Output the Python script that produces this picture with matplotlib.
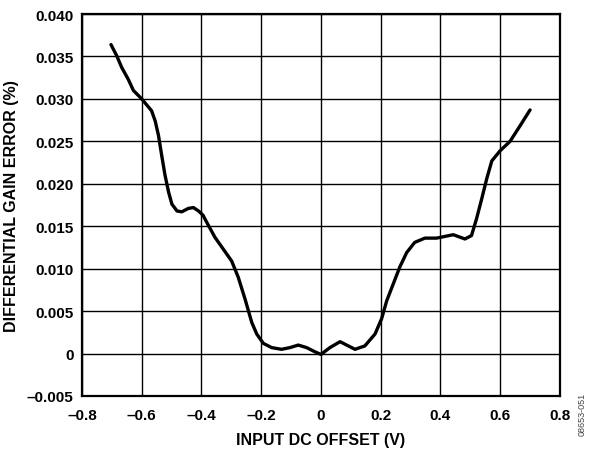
import matplotlib
matplotlib.use("Agg")
from matplotlib import pyplot as plt
from matplotlib.ticker import FuncFormatter

# curve
offset_v = [-0.703, -0.684, -0.667, -0.645, -0.628, -0.600, -0.567, -0.555, -0.544,
            -0.533, -0.522, -0.510, -0.499, -0.482, -0.466, -0.444, -0.427, -0.410,
            -0.395, -0.383, -0.355, -0.327, -0.299, -0.277, -0.254, -0.232, -0.215,
            -0.193, -0.165, -0.132, -0.104, -0.076, -0.048, -0.020, 0.000, 0.030,
            0.064, 0.086, 0.114, 0.147, 0.181, 0.203, 0.220, 0.242, 0.264, 0.287,
            0.314, 0.348, 0.387, 0.443, 0.482, 0.504, 0.521, 0.538, 0.555, 0.572,
            0.600, 0.633, 0.666, 0.700]
gain_err = [0.0364, 0.0351, 0.0337, 0.0323, 0.0310, 0.0300, 0.0286, 0.0274, 0.0257,
            0.0233, 0.0210, 0.0190, 0.0176, 0.0168, 0.0167, 0.0171, 0.0172, 0.0168,
            0.0163, 0.0155, 0.0137, 0.0123, 0.0109, 0.0090, 0.0064, 0.0037, 0.0023,
            0.0012, 0.0007, 0.0005, 0.0007, 0.0010, 0.0007, 0.0002, -0.0001, 0.0007,
            0.0014, 0.0010, 0.0005, 0.0009, 0.0023, 0.0041, 0.0062, 0.0082, 0.0102,
            0.0119, 0.0131, 0.0136, 0.0136, 0.0140, 0.0135, 0.0139, 0.0159, 0.0182,
            0.0206, 0.0227, 0.0239, 0.0250, 0.0268, 0.0287]

x_ticks = [-0.8, -0.6, -0.4, -0.2, 0, 0.2, 0.4, 0.6, 0.8]
y_ticks = [-0.005, 0, 0.005, 0.010, 0.015, 0.020, 0.025, 0.030, 0.035, 0.040]

plt.rcParams['font.family'] = ['Liberation Sans', 'DejaVu Sans']
plt.rcParams['font.weight'] = 'bold'

fig = plt.figure(figsize=(5.9, 4.52), dpi=100)
ax = fig.add_axes([0.139, 0.1217, 0.810, 0.845])
ax.plot(offset_v, gain_err, c='black', lw=2.4, solid_joinstyle='round',
        solid_capstyle='round', zorder=3)

ax.set_xlim(-0.8, 0.8)
ax.set_ylim(-0.005, 0.040)
ax.set_xticks(x_ticks)
ax.set_yticks(y_ticks)

def fmt_x(v, pos):
    if abs(v) < 1e-9:
        return "0"
    return ("%.1f" % v).replace("-", "\u2013")

def fmt_y(v, pos):
    if abs(v) < 1e-9:
        return "0"
    return ("%.3f" % v).replace("-", "\u2013")

ax.xaxis.set_major_formatter(FuncFormatter(fmt_x))
ax.yaxis.set_major_formatter(FuncFormatter(fmt_y))
ax.tick_params(axis='x', length=0, labelsize=11, pad=9)
ax.tick_params(axis='y', length=0, labelsize=11, pad=6)
ax.grid(True, color='black', lw=1.0)
for s in ax.spines.values():
    s.set_linewidth(1.6)

ax.set_xlabel("INPUT DC OFFSET (V)", fontsize=11.5, fontweight='bold', labelpad=7)
ax.set_ylabel("DIFFERENTIAL GAIN ERROR (%)", fontsize=11.5, fontweight='bold', labelpad=6)

fig.text(0.987, 0.035, "08653-051", rotation=90, fontsize=6.5, color='#444444',
         fontweight='normal', ha='center', va='bottom')

fig.savefig("out.png", dpi=100)
